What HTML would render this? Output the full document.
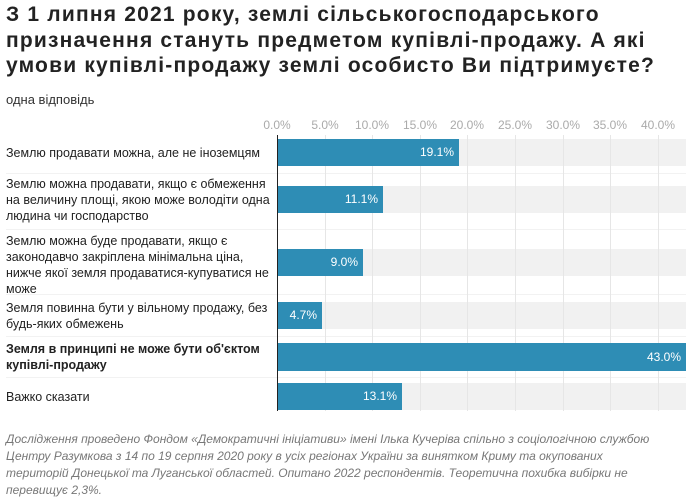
<!DOCTYPE html>
<html><head><meta charset="utf-8"><style>
body{margin:0;width:690px;height:493px;background:#fff;font-family:"Liberation Sans","DejaVu Sans",sans-serif;position:relative;overflow:hidden;color:#222}
.t{position:absolute;left:6px;top:2px;font-size:21px;font-weight:bold;line-height:25.5px;color:#222;width:700px;white-space:nowrap;letter-spacing:1.2px}
.sub{position:absolute;left:6px;top:92px;font-size:13px;color:#333}
.tick{position:absolute;top:118px;font-size:12px;color:#aaa;transform:translateX(-50%)}
.grid{position:absolute;top:135px;height:276px;width:1px;background:#e6e6e6}
.band{position:absolute;left:277px;width:409px;background:#f1f1f1}
.bar{position:absolute;left:277px;background:#2e8db5;color:#fff;font-size:12px;text-align:right;box-sizing:border-box;padding-right:5px}
.lab{position:absolute;left:6px;font-size:12.5px;line-height:16px;color:#222;width:265px}
.sep{position:absolute;left:6px;width:680px;height:1px;background:#f2f2f2}
.foot{position:absolute;left:6px;top:431px;font-size:12px;line-height:17px;font-style:italic;color:#777;width:690px;white-space:nowrap}
</style></head><body>
<div class="t">З 1 липня 2021 року, землі сільськогосподарського<br>призначення стануть предметом купівлі-продажу. А які<br>умови купівлі-продажу землі особисто Ви підтримуєте?</div>
<div class="sub">одна відповідь</div>
<div class="tick" style="left:277px">0.0%</div><div class="tick" style="left:325px">5.0%</div><div class="tick" style="left:372px">10.0%</div><div class="tick" style="left:420px">15.0%</div><div class="tick" style="left:467px">20.0%</div><div class="tick" style="left:515px">25.0%</div><div class="tick" style="left:563px">30.0%</div><div class="tick" style="left:610px">35.0%</div><div class="tick" style="left:658px">40.0%</div>
<div class="sep" style="top:173px"></div><div class="sep" style="top:229px"></div><div class="sep" style="top:294px"></div><div class="sep" style="top:336px"></div><div class="sep" style="top:377px"></div>
<div class="band" style="top:139px;height:27px"></div>
<div class="band" style="top:186px;height:27px"></div>
<div class="band" style="top:249px;height:27px"></div>
<div class="band" style="top:302px;height:27px"></div>
<div class="band" style="top:343px;height:28px"></div>
<div class="band" style="top:383px;height:27px"></div>
<div class="grid" style="left:325px"></div><div class="grid" style="left:372px"></div><div class="grid" style="left:420px"></div><div class="grid" style="left:467px"></div><div class="grid" style="left:515px"></div><div class="grid" style="left:563px"></div><div class="grid" style="left:610px"></div><div class="grid" style="left:658px"></div>
<div class="bar" style="top:139px;height:27px;line-height:27px;width:182px">19.1%</div>
<div class="bar" style="top:186px;height:27px;line-height:27px;width:106px">11.1%</div>
<div class="bar" style="top:249px;height:27px;line-height:27px;width:86px">9.0%</div>
<div class="bar" style="top:302px;height:27px;line-height:27px;width:45px">4.7%</div>
<div class="bar" style="top:343px;height:28px;line-height:28px;width:409px">43.0%</div>
<div class="bar" style="top:383px;height:27px;line-height:27px;width:125px">13.1%</div>
<div style="position:absolute;left:277px;top:135px;width:1px;height:276px;background:#222"></div>
<div class="lab" style="top:145px">Землю продавати можна, але не іноземцям</div>
<div class="lab" style="top:176px">Землю можна продавати, якщо є обмеження на величину площі, якою може володіти одна людина чи господарство</div>
<div class="lab" style="top:233px">Землю можна буде продавати, якщо є законодавчо закріплена мінімальна ціна, нижче якої земля продаватися-купуватися не може</div>
<div class="lab" style="top:300px">Земля повинна бути у вільному продажу, без будь-яких обмежень</div>
<div class="lab" style="top:341px;font-weight:bold">Земля в принципі не може бути об'єктом купівлі-продажу</div>
<div class="lab" style="top:389px">Важко сказати</div>
<div class="foot">Дослідження проведено Фондом «Демократичні ініціативи» імені Ілька Кучеріва спільно з соціологічною службою<br>Центру Разумкова з 14 по 19 серпня 2020 року в усіх регіонах України за винятком Криму та окупованих<br>територій Донецької та Луганської областей. Опитано 2022 респондентів. Теоретична похибка вибірки не<br>перевищує 2,3%.</div>
</body></html>
